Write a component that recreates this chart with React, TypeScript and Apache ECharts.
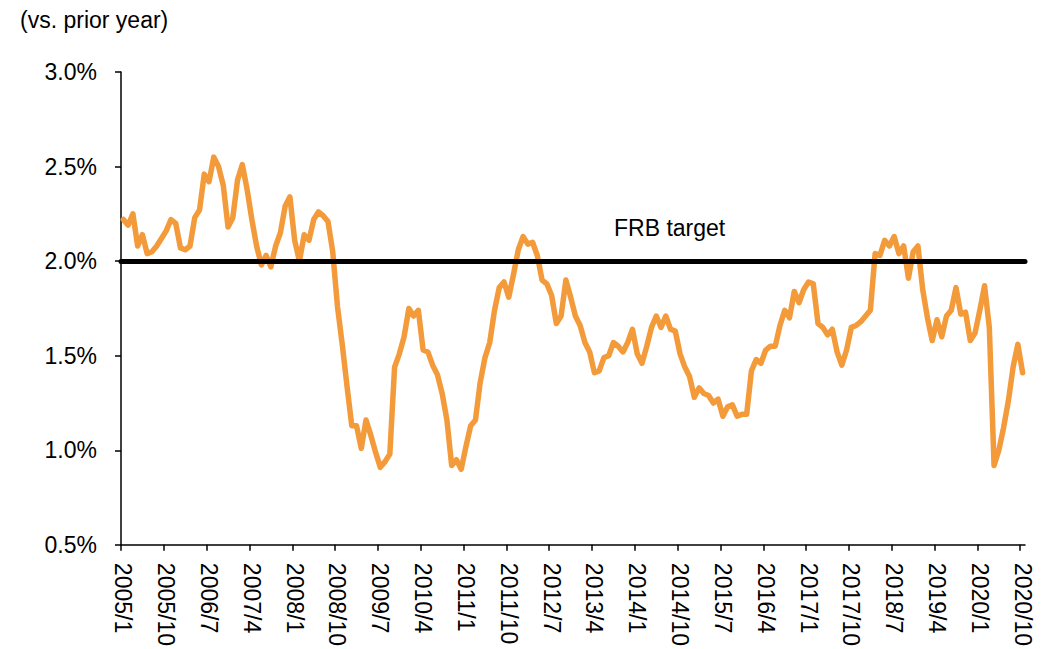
import React, { useEffect, useRef } from "react";
import * as echarts from "echarts";

// ---- data (monthly, year-on-year %, 2005/1 .. 2020/10) ----
const START_YEAR = 2005;
const LABEL_STEP = 9;
const FRB_TARGET = 2.0;
const TITLE = "(vs. prior year)";
const TARGET_LABEL = "FRB target";

const values2005to2008 = [
  2.22, 2.19, 2.25, 2.08, 2.14, 2.04, 2.05, 2.08, 2.12, 2.16, 2.22, 2.2,
  2.07, 2.06, 2.08, 2.23, 2.27, 2.46, 2.42, 2.55, 2.5, 2.4, 2.18, 2.23,
  2.43, 2.51, 2.38, 2.22, 2.08, 1.98, 2.03, 1.97, 2.08, 2.15, 2.29, 2.34,
  2.11, 2.0, 2.14, 2.11, 2.22, 2.26, 2.24, 2.21, 2.05, 1.76, 1.56, 1.34,
];
const values2009to2012 = [
  1.13, 1.13, 1.01, 1.16, 1.08, 0.99, 0.91, 0.94, 0.98, 1.44, 1.51, 1.6,
  1.75, 1.71, 1.74, 1.53, 1.52, 1.45, 1.4, 1.3, 1.16, 0.92, 0.95, 0.9,
  1.02, 1.13, 1.16, 1.36, 1.49, 1.57, 1.74, 1.86, 1.89, 1.81, 1.93, 2.06,
  2.13, 2.09, 2.1, 2.03, 1.9, 1.88, 1.82, 1.67, 1.71, 1.9, 1.81, 1.71,
];
const values2013to2016 = [
  1.66, 1.57, 1.52, 1.41, 1.42, 1.49, 1.5, 1.57, 1.55, 1.52, 1.57, 1.64,
  1.51, 1.46, 1.55, 1.65, 1.71, 1.65, 1.71, 1.64, 1.63, 1.51, 1.44, 1.39,
  1.28, 1.33, 1.3, 1.29, 1.25, 1.27, 1.18, 1.23, 1.24, 1.18, 1.19, 1.19,
  1.42, 1.48, 1.46, 1.53, 1.55, 1.55, 1.66, 1.74, 1.7, 1.84, 1.78, 1.85,
];
const values2017to2020 = [
  1.89, 1.88, 1.67, 1.65, 1.61, 1.64, 1.52, 1.45, 1.53, 1.65, 1.66, 1.68,
  1.71, 1.74, 2.04, 2.03, 2.11, 2.08, 2.13, 2.04, 2.08, 1.91, 2.05, 2.08,
  1.85, 1.7, 1.58, 1.69, 1.6, 1.71, 1.74, 1.86, 1.72, 1.73, 1.58, 1.62,
  1.74, 1.87, 1.65, 0.92, 1.0, 1.12, 1.26, 1.44, 1.56, 1.41,
];

const seriesValues = [
  ...values2005to2008,
  ...values2009to2012,
  ...values2013to2016,
  ...values2017to2020,
];

const monthLabels: string[] = seriesValues.map((_, i) => {
  const y = START_YEAR + Math.floor(i / 12);
  const m = (i % 12) + 1;
  return `${y}/${m}`;
});

const tickIndexes: number[] = [];
for (let i = 0; i < monthLabels.length; i += LABEL_STEP) tickIndexes.push(i);

const FONT = "'Liberation Sans', Arial, sans-serif";

export default function App() {
  const ref = useRef<HTMLDivElement>(null);

  useEffect(() => {
    document.body.style.margin = "0";
    if (!ref.current) return;
    const chart = echarts.init(ref.current, undefined, { renderer: "svg" });
    const n = seriesValues.length;
    chart.setOption({
      animation: false,
      backgroundColor: "#ffffff",
      grid: { left: 121, right: 28, top: 72, bottom: 104 },
      xAxis: {
        type: "value",
        min: 0,
        max: n,
        splitLine: { show: false },
        axisLine: { show: true, lineStyle: { color: "#000", width: 1.5 } },
        axisTick: {
          show: true,
          length: 6,
          lineStyle: { color: "#000", width: 1.5 },
          customValues: tickIndexes,
        },
        axisLabel: {
          customValues: tickIndexes.map((i) => i + 0.5),
          formatter: (v: number) => monthLabels[Math.floor(v)] ?? "",
          rotate: -90,
          margin: 18,
          color: "#000",
          fontSize: 23,
          fontFamily: FONT,
        },
      },
      yAxis: {
        type: "value",
        min: 0.5,
        max: 3.0,
        interval: 0.5,
        splitLine: { show: false },
        axisLine: { show: true, lineStyle: { color: "#000", width: 1.5 } },
        axisTick: { show: true, length: 6, lineStyle: { color: "#000", width: 1.5 } },
        axisLabel: {
          formatter: (v: number) => `${v.toFixed(1)}%`,
          margin: 24,
          color: "#000",
          fontSize: 23,
          fontFamily: FONT,
        },
      },
      series: [
        {
          type: "line",
          data: seriesValues.map((v, i) => [i + 0.5, v]),
          symbol: "none",
          lineStyle: { color: "#F39A3B", width: 5.5, cap: "round", join: "round" },
          itemStyle: { color: "#F39A3B" },
          z: 2,
        },
        {
          type: "line",
          data: [],
          z: 3,
          markLine: {
            silent: true,
            symbol: "none",
            label: { show: false },
            lineStyle: { color: "#000", width: 5, type: "solid", cap: "round" },
            data: [{ yAxis: FRB_TARGET }],
          },
        },
      ],
      graphic: [
        {
          type: "text",
          left: 20,
          top: 8,
          style: { text: TITLE, fill: "#000", fontSize: 23, fontFamily: FONT },
        },
        {
          type: "text",
          left: 614,
          top: 216,
          style: { text: TARGET_LABEL, fill: "#000", fontSize: 23, fontFamily: FONT },
        },
      ],
    });
    return () => chart.dispose();
  }, []);

  return <div ref={ref} style={{ width: 1053, height: 649 }} />;
}
